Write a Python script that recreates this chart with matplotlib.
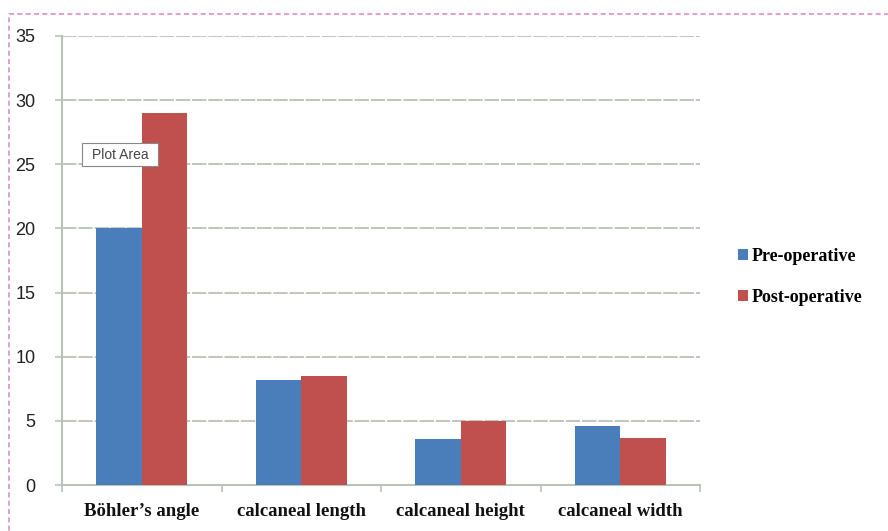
import numpy as np
import matplotlib.pyplot as plt
from matplotlib.patches import Rectangle, FancyBboxPatch

categories = ["Böhler’s angle", "calcaneal length", "calcaneal height", "calcaneal width"]
pre_op = [20, 8.2, 3.6, 4.6]
post_op = [29, 8.5, 5.0, 3.7]
series_names = ["Pre-operative", "Post-operative"]
yticks = [0, 5, 10, 15, 20, 25, 30, 35]

blue = "#4a7ebb"
red = "#c0504d"
grid_col = "#b9c2b9"

fig = plt.figure(figsize=(8.88, 5.31), dpi=100)
ax = fig.add_axes([62 / 888, 46 / 531, 638 / 888, 449 / 531])

x = np.arange(len(categories))
w = 0.285
ax.bar(x - w / 2, pre_op, w, color=blue, label=series_names[0], zorder=3)
ax.bar(x + w / 2, post_op, w, color=red, label=series_names[1], zorder=3)

ax.set_xlim(-0.5, len(categories) - 0.5)
ax.set_ylim(0, 35)
ax.set_yticks(yticks)
ax.set_yticklabels([str(t) for t in yticks], fontsize=13, family="Liberation Sans",
                   color="#222222")
ax.set_xticks(x)
ax.set_xticklabels(categories, fontsize=13.5, family="Liberation Serif",
                   color="#111111", weight="bold")
ax.tick_params(axis="x", length=0, pad=13)
ax.tick_params(axis="y", length=5, color=grid_col, width=1.2, pad=14)

# category boundary ticks under the axis
ax.set_xticks(np.arange(-0.5, len(categories) + 0.5, 1), minor=True)
ax.tick_params(axis="x", which="minor", length=5, color=grid_col, width=1.2)

ax.grid(axis="y", color=grid_col, linewidth=1.3, linestyle=(0, (8, 1)), zorder=0)
for side in ["top", "right"]:
    ax.spines[side].set_visible(False)
ax.spines["left"].set_color(grid_col)
ax.spines["left"].set_linewidth(1.5)
ax.spines["bottom"].set_color(grid_col)
ax.spines["bottom"].set_linewidth(1.5)

leg = fig.legend(loc="upper left", bbox_to_anchor=(722 / 888, 1 - 232 / 531),
                 frameon=False,
                 prop={"family": "Liberation Serif", "size": 13, "weight": "bold"},
                 handlelength=0.55, handleheight=0.55, handletextpad=0.2,
                 labelspacing=1.3)

# dashed outline of the chart area
fig.add_artist(Rectangle((9 / 888, -0.05), 1.2, 1 - 14 / 531 + 0.05,
                         transform=fig.transFigure, fill=False,
                         edgecolor="#d58fd0", linewidth=1.2,
                         linestyle=(0, (3, 2))))

# hover tooltip
fig.add_artist(FancyBboxPatch((82 / 888, 1 - 166 / 531), 76 / 888, 23 / 531,
                              boxstyle="square,pad=0", transform=fig.transFigure,
                              facecolor="white", edgecolor="#888888", linewidth=0.8,
                              zorder=5))
fig.text(120 / 888, 1 - 155 / 531, "Plot Area", ha="center", va="center",
         fontsize=10, family="Liberation Sans", color="#444444", zorder=6)

fig.savefig("out.png", dpi=100)
